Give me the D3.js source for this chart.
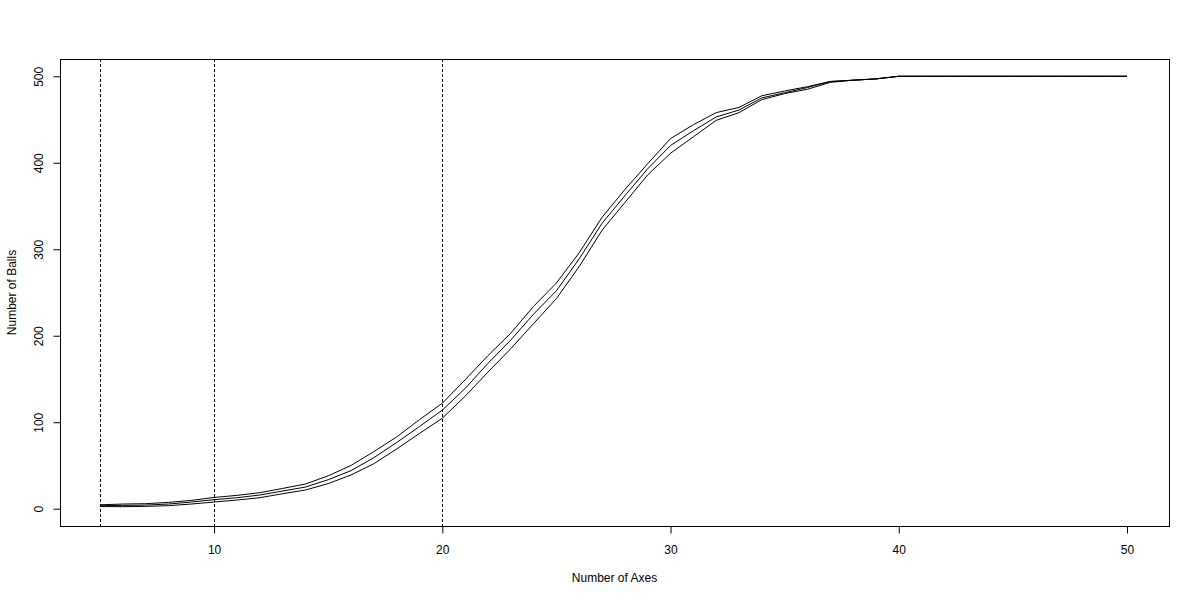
<!DOCTYPE html>
<html>
<head>
<meta charset="utf-8">
<script src="https://cdn.jsdelivr.net/npm/d3@7"></script>
<style>
  html, body { margin: 0; padding: 0; background: #fff; }
  svg { display: block; font-family: "Liberation Sans", Arial, sans-serif; }
</style>
</head>
<body>
<svg id="chart" width="1200" height="600"></svg>
<script>
// Number of axes (x values)
const axes = [5,6,7,8,9,10,11,12,13,14,15,16,17,18,19,20,21,22,23,24,25,26,27,28,29,30,31,32,33,34,35,36,37,38,39,40,41,42,43,44,45,46,47,48,49,50];
// Upper band
const upper = [4.5,5.4,5.8,7.3,9.6,13,15.4,18.5,23.4,28.5,38,50,66,83,103,122,149,177,203,234,261,296,337,369,399,428,444,458,464,477.5,483,488,494,495.5,497,500,500,500,500,500,500,500,500,500,500,500];
// Middle (estimate)
const middle = [3.5,3.8,4.2,5.4,7.7,10.4,12.7,15.8,20.4,25,33.5,44,59,76.5,95,114,139,168,195,225,252,289,330,362,393,420,437,453,461,475,481,487,494,495.5,497,500,500,500,500,500,500,500,500,500,500,500];
// Lower band
const lower = [2.5,2.3,2.7,3.5,5.4,7.7,10,12.7,17.3,21.6,29,39,52,69,87,104.6,130,158,185,214,243,280,322,354,386,411,430,449,458,473,480,485,493,495.5,497,500,500,500,500,500,500,500,500,500,500,500];
// Reference lines
const refLines = [5, 10, 20];
// Tick labels
const xTicks = [10, 20, 30, 40, 50];
const yTicks = [0, 100, 200, 300, 400, 500];
const xTitle = "Number of Axes";
const yTitle = "Number of Balls";

const svg = d3.select("#chart");
const pL = 60, pR = 1169, pT = 59, pB = 526;

const x = d3.scaleLinear().domain([3.25, 51.84]).range([pL, pR]);
const y = d3.scaleLinear().domain([-20, 520]).range([pB, pT]);

// plot box
svg.append("rect")
  .attr("x", pL + 0.5).attr("y", pT + 0.5)
  .attr("width", pR - pL).attr("height", pB - pT)
  .attr("fill", "none").attr("stroke", "#000").attr("stroke-width", 1);

// x axis
const xAxis = d3.axisBottom(x).tickValues(xTicks).tickSize(7).tickPadding(12).tickFormat(d3.format("d"));
const gx = svg.append("g").attr("transform", `translate(0,${pB + 0.5})`).call(xAxis);
gx.select(".domain").remove();
gx.selectAll("line").attr("stroke", "#000");
gx.selectAll("text").attr("font-size", 12).attr("fill", "#000")
  .attr("font-family", "Liberation Sans, Arial, sans-serif");

// y axis
const yAxis = d3.axisLeft(y).tickValues(yTicks).tickSize(7).tickPadding(8).tickFormat(d3.format("d"));
const gy = svg.append("g").attr("transform", `translate(${pL + 0.5},0)`).call(yAxis);
gy.select(".domain").remove();
gy.selectAll("line").attr("stroke", "#000");
gy.selectAll("text")
  .attr("font-size", 12).attr("fill", "#000")
  .attr("font-family", "Liberation Sans, Arial, sans-serif")
  .attr("text-anchor", "middle")
  .attr("x", null).attr("dy", null)
  .attr("transform", "translate(-18,0) rotate(-90)")
  .attr("y", 0);

// axis titles
svg.append("text")
  .attr("x", (pL + pR) / 2).attr("y", 582)
  .attr("text-anchor", "middle").attr("font-size", 12).attr("fill", "#000")
  .text(xTitle);
svg.append("text")
  .attr("transform", `translate(16,${(pT + pB) / 2}) rotate(-90)`)
  .attr("text-anchor", "middle").attr("font-size", 12).attr("fill", "#000")
  .text(yTitle);

// reference dotted lines
svg.selectAll("line.ref").data(refLines).enter().append("line")
  .attr("class", "ref")
  .attr("x1", d => Math.round(x(d)) + 0.5).attr("x2", d => Math.round(x(d)) + 0.5)
  .attr("y1", pT).attr("y2", pB)
  .attr("stroke", "#000").attr("stroke-width", 1)
  .attr("stroke-dasharray", "3,2");

// curves
const line = d3.line().x((d, i) => x(axes[i])).y(d => y(d));
[upper, middle, lower].forEach(series => {
  svg.append("path")
    .datum(series)
    .attr("d", line)
    .attr("fill", "none")
    .attr("stroke", "#000")
    .attr("stroke-width", 1);
});
</script>
</body>
</html>
